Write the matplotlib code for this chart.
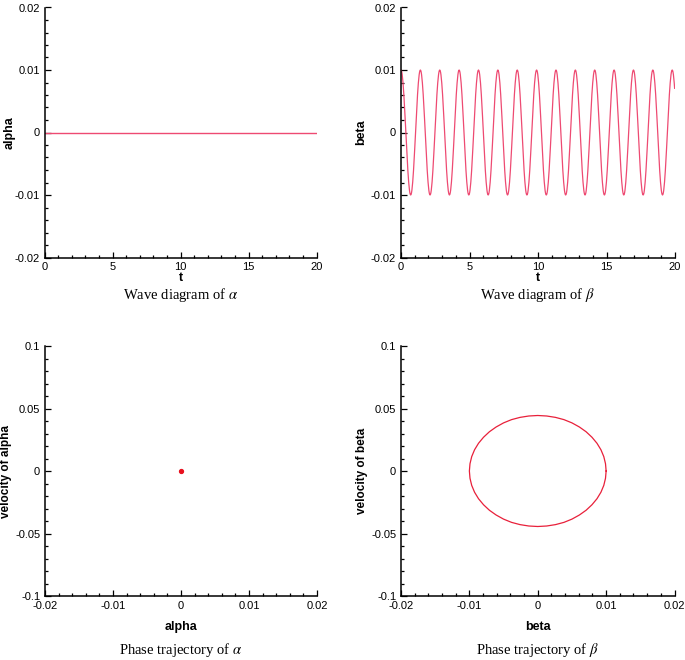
import matplotlib
matplotlib.use("Agg")
import matplotlib.pyplot as plt
import numpy as np
from matplotlib.ticker import MultipleLocator, FormatStrFormatter

# Fonts and general look
plt.rcParams['font.family'] = ['Liberation Sans', 'DejaVu Sans']
plt.rcParams['mathtext.fontset'] = 'stix'
plt.rcParams['axes.unicode_minus'] = False

# Data
# alpha stays at rest
alpha_t = [0, 20]
alpha_vals = [0, 0]
alpha_pos = [0.0]
alpha_vel = [0.0]

# beta: one period of the oscillation (period ~1.414 s), repeated
beta_period_len = 1.414
beta_one_period = [0.0100, 0.00991, 0.00966, 0.00924, 0.00866, 0.00793,
                   0.00707, 0.00609, 0.00500, 0.00383, 0.00259, 0.00131,
                   0.0, -0.00131, -0.00259, -0.00383, -0.00500, -0.00609,
                   -0.00707, -0.00793, -0.00866, -0.00924, -0.00966, -0.00991,
                   -0.0100, -0.00991, -0.00966, -0.00924, -0.00866, -0.00793,
                   -0.00707, -0.00609, -0.00500, -0.00383, -0.00259, -0.00131,
                   0.0, 0.00131, 0.00259, 0.00383, 0.00500, 0.00609,
                   0.00707, 0.00793, 0.00866, 0.00924, 0.00966, 0.00991]
beta_n_periods = 15

# beta phase trajectory (closed loop), velocity amplitude ~0.0444
beta_ring = beta_one_period + [0.0100]
beta_vel_ring = [0.0, 0.0058, 0.0115, 0.0170, 0.0222, 0.0270,
                 0.0314, 0.0352, 0.0385, 0.0411, 0.0429, 0.0440,
                 0.0444, 0.0440, 0.0429, 0.0411, 0.0385, 0.0352,
                 0.0314, 0.0270, 0.0222, 0.0170, 0.0115, 0.0058,
                 0.0, -0.0058, -0.0115, -0.0170, -0.0222, -0.0270,
                 -0.0314, -0.0352, -0.0385, -0.0411, -0.0429, -0.0440,
                 -0.0444, -0.0440, -0.0429, -0.0411, -0.0385, -0.0352,
                 -0.0314, -0.0270, -0.0222, -0.0170, -0.0115, -0.0058, 0.0]

captions = ["Wave diagram of $\\alpha$", "Wave diagram of $\\beta$",
            "Phase trajectory of $\\alpha$", "Phase trajectory of $\\beta$"]

wave_col = '#ee4a72'
ring_col = '#e8203a'

# Build the beta time series from the repeated period
beta_vals = np.tile(beta_one_period, beta_n_periods)
beta_t = np.arange(len(beta_vals)) * beta_period_len / len(beta_one_period)
keep = beta_t <= 20.0
beta_t = beta_t[keep]
beta_vals = beta_vals[keep]

fig = plt.figure(figsize=(6.85, 6.6), dpi=100)

W, H = 685.0, 660.0
def px_axes(x0, x1, y0, y1):
    # pixel box -> figure fraction
    return fig.add_axes([x0 / W, 1 - y1 / H, (x1 - x0) / W, (y1 - y0) / H])

ax1 = px_axes(44.5, 316.5, 7.5, 257.5)
ax2 = px_axes(401, 675, 7.5, 257.5)
ax3 = px_axes(45, 317, 346, 596)
ax4 = px_axes(401, 674.5, 346, 596)

def style(ax, xlim, ylim, xmaj, xmin, ymaj, ymin, xlab, ylab, xlab_y, ylab_x, ysize):
    ax.set_xlim(xlim)
    ax.set_ylim(ylim)
    ax.spines['top'].set_visible(False)
    ax.spines['right'].set_visible(False)
    ax.spines['left'].set_linewidth(1.1)
    ax.spines['bottom'].set_linewidth(1.1)
    ax.xaxis.set_major_locator(MultipleLocator(xmaj))
    ax.xaxis.set_minor_locator(MultipleLocator(xmin))
    ax.yaxis.set_major_locator(MultipleLocator(ymaj))
    ax.yaxis.set_minor_locator(MultipleLocator(ymin))
    ax.xaxis.set_major_formatter(FormatStrFormatter('%g'))
    ax.yaxis.set_major_formatter(FormatStrFormatter('%g'))
    ax.tick_params(which='both', direction='in', labelsize=8, width=0.9)
    ax.tick_params(which='major', length=4.5, pad=3.5)
    ax.tick_params(which='minor', length=2.3)
    ax.set_xlabel(xlab, fontsize=9, fontweight='bold')
    ax.set_ylabel(ylab, fontsize=ysize, fontweight='bold')
    ax.xaxis.set_label_coords(0.5, xlab_y)
    ax.yaxis.set_label_coords(ylab_x, 0.5)

# Wave of alpha
ax1.plot(alpha_t, alpha_vals, color=wave_col, lw=1.0)
style(ax1, (0, 20), (-0.02, 0.02), 5, 1, 0.01, 0.002, 't', 'alpha',
      -0.058, -0.105, 9)

# Wave of beta
ax2.plot(beta_t, beta_vals, color=wave_col, lw=0.9)
style(ax2, (0, 20), (-0.02, 0.02), 5, 1, 0.01, 0.002, 't', 'beta',
      -0.058, -0.122, 9)

# Phase of alpha
ax3.plot(alpha_pos, alpha_vel, 'o', color='#e8101e', markersize=2.8)
style(ax3, (-0.02, 0.02), (-0.1, 0.1), 0.01, 0.002, 0.05, 0.01,
      'alpha', 'velocity of alpha', -0.10, -0.122, 8.5)

# Phase of beta
ax4.plot(beta_ring, beta_vel_ring, color=ring_col, lw=0.9)
style(ax4, (-0.02, 0.02), (-0.1, 0.1), 0.01, 0.002, 0.05, 0.01,
      'beta', 'velocity of beta', -0.10, -0.122, 8.5)

# Captions under each panel
cap_pos = [(180.5, 294.5), (537.5, 294.5), (181, 650), (537.5, 650)]
for (cx, cy), txt in zip(cap_pos, captions):
    fig.text(cx / W, 1 - cy / H, txt, ha='center', va='center',
             fontsize=10.5, family=['Liberation Serif', 'DejaVu Serif'])

fig.savefig('out.png', dpi=100)
